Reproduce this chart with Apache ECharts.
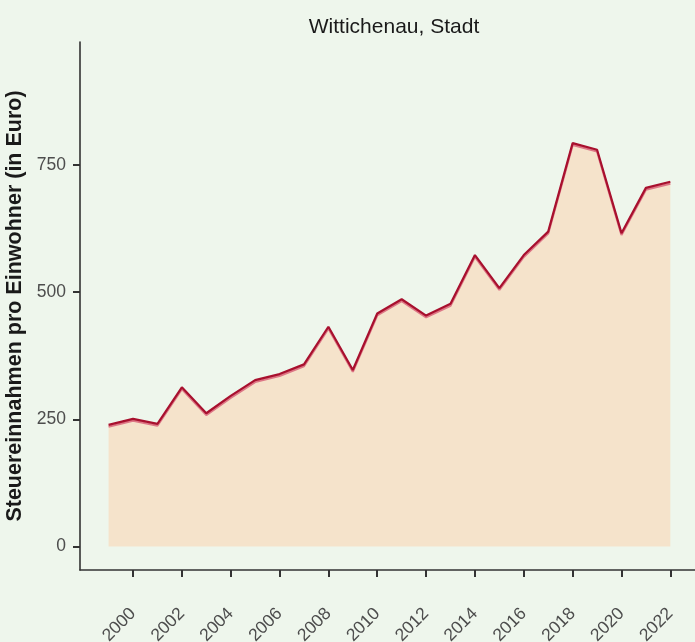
<!DOCTYPE html>
<html>
<head>
<meta charset="utf-8">
<script src="https://cdn.jsdelivr.net/npm/echarts@6/dist/echarts.min.js"></script>
<style>
html,body{margin:0;padding:0;background:#EEF6EC;}
#chart{width:695px;height:642px;}
</style>
</head>
<body>
<div id="chart"></div>
<script>
var years = [1999,2000,2001,2002,2003,2004,2005,2006,2007,2008,2009,2010,2011,2012,2013,2014,2015,2016,2017,2018,2019,2020,2021,2022];
var values = [239,251,241,313,262,296,327,339,358,432,347,458,486,454,477,573,508,573,619,793,780,616,705,717];
var xTicks = [2000,2002,2004,2006,2008,2010,2012,2014,2016,2018,2020,2022];
var yTicks = [0,250,500,750];
var titleText = 'Wittichenau, Stadt';
var yName = 'Steuereinnahmen pro Einwohner (in Euro)';

var chart = echarts.init(document.getElementById('chart'), null, {renderer:'canvas'});
var font = 'Liberation Sans, Arial, Helvetica, sans-serif';
chart.setOption({
  backgroundColor: '#EEF6EC',
  animation: false,
  title: {
    text: titleText,
    left: 389,
    top: 12,
    textAlign: 'center',
    textStyle: {fontFamily: font, fontSize: 21, fontWeight: 'normal', color: '#1a1a1a'}
  },
  grid: {left: 80, right: 0, top: 42, bottom: 72, containLabel: false, outerBoundsMode: 'none'},
  xAxis: {
    type: 'value',
    min: 1997.83,
    max: 2023.01,
    splitLine: {show: false},
    axisLine: {show: true, onZero: false, lineStyle: {color: '#333', width: 1.6}},
    axisTick: {show: true, customValues: xTicks, length: 7, lineStyle: {color: '#333', width: 2}},
    axisLabel: {
      customValues: xTicks, rotate: 45, margin: 41,
      fontFamily: font, fontSize: 17.5, color: '#4d4d4d',
      formatter: function(v){ return String(v); }
    }
  },
  yAxis: {
    type: 'value',
    min: -46.2,
    max: 991.8,
    name: yName,
    nameLocation: 'middle',
    nameGap: 52,
    nameTextStyle: {fontFamily: font, fontSize: 21.5, fontWeight: 'bold', color: '#1a1a1a'},
    splitLine: {show: false},
    axisLine: {show: true, onZero: false, lineStyle: {color: '#333', width: 1.6}},
    axisTick: {show: true, customValues: yTicks, length: 7, lineStyle: {color: '#333', width: 2}},
    axisLabel: {
      customValues: yTicks, margin: 14,
      fontFamily: font, fontSize: 17.5, color: '#4d4d4d'
    }
  },
  series: [{
    type: 'line',
    data: years.map(function(y, i){ return [y, values[i]]; }),
    showSymbol: false,
    symbol: 'none',
    lineStyle: {color: '#A8102E', width: 2.2, shadowColor: 'rgba(215,90,115,0.8)', shadowOffsetY: 1.8, shadowBlur: 0},
    areaStyle: {color: '#F5E3CB', opacity: 1},
    z: 2
  }]
});
</script>
</body>
</html>
